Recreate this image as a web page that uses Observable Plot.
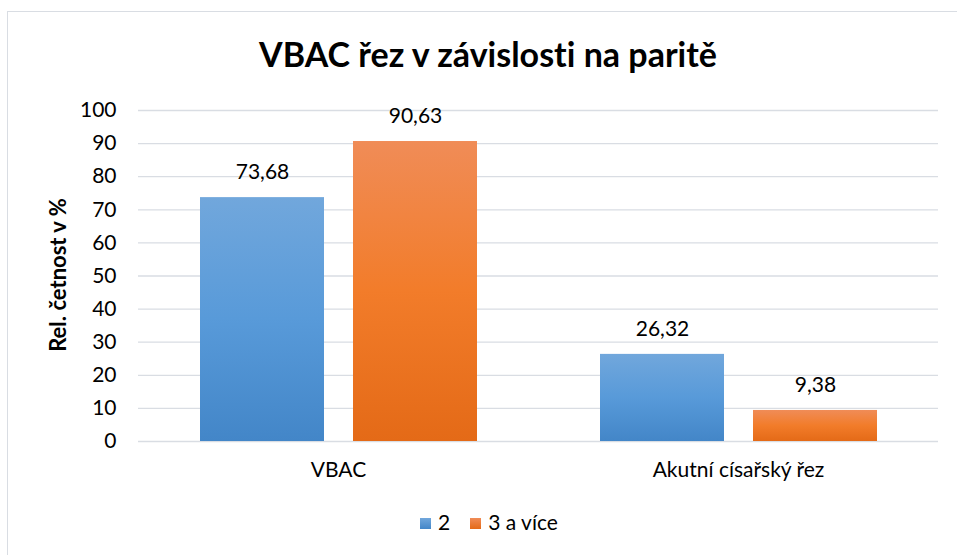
<!DOCTYPE html>
<html>
<head>
<meta charset="utf-8">
<script src="https://cdn.jsdelivr.net/npm/d3@7"></script>
<script src="https://cdn.jsdelivr.net/npm/@observablehq/plot@0.6"></script>
<style>
  body { margin: 0; background: #fff; font-family: Lato, "Open Sans", sans-serif; font-variant-ligatures: none; }
  #frame { position: absolute; left: 7px; top: 11px; width: 960px; height: 560px; border-left: 1px solid #d9dde3; border-top: 1px solid #d9dde3; box-sizing: border-box; }
  #title { position: absolute; left: 0; width: 976px; top: 33px; text-align: center; font-size: 34px; font-weight: 700; color: #000; }
  #chart { position: absolute; left: 0; top: 90px; }
  #chart svg { font-variant-ligatures: none; }
  #legend { position: absolute; left: 0; width: 978px; top: 509px; text-align: center; font-size: 21px; color: #000; }
  #legend span.sw { display: inline-block; width: 11px; height: 11px; margin-right: 7px; vertical-align: 1px; }
  #legend span.item { margin: 0 10px; }
</style>
</head>
<body>
<div id="frame"></div>
<div id="title">VBAC řez v závislosti na paritě</div>
<div id="chart"></div>
<div id="legend"></div>
<script>
const categories = ["VBAC", "Akutní císařský řez"];
const series = ["2", "3 a více"];
const values2 = [73.68, 26.32];
const values3 = [90.63, 9.38];
const yTicks = [0, 10, 20, 30, 40, 50, 60, 70, 80, 90, 100];
const colors = ["url(#gBlue)", "url(#gOrange)"];

const data = [];
categories.forEach((c, i) => {
  data.push({category: c, series: series[0], value: values2[i]});
  data.push({category: c, series: series[1], value: values3[i]});
});
const fmt = v => v.toFixed(2).replace(".", ",");

const plot = Plot.plot({
  width: 957,
  height: 400,
  marginTop: 20,
  marginBottom: 49,
  marginLeft: 137,
  marginRight: 19,
  style: {fontFamily: "Lato, 'Open Sans', sans-serif", fontSize: "21px", color: "#000", background: "transparent"},
  fx: {domain: categories, padding: 0, label: null, tickSize: 0, tickPadding: 21},
  x: {domain: series, paddingInner: 0.19, paddingOuter: 0.402, axis: null},
  y: {domain: [0, 100], ticks: yTicks, tickSize: 0, tickPadding: 22, label: null, grid: false},
  color: {domain: series, range: colors},
  marks: [
    Plot.ruleY(yTicks, {stroke: "#d9dde3", strokeWidth: 1.3, strokeOpacity: 1}),
    Plot.barY(data, {fx: "category", x: "series", y: "value", fill: "series"}),
    Plot.text(data, {fx: "category", x: "series", y: "value", text: d => fmt(d.value), dy: -25, fontSize: 21, fill: "#000"})
  ]
});

// gradients
const svg = d3.select(plot);
const defs = svg.insert("defs", ":first-child");
const gb = defs.append("linearGradient").attr("id", "gBlue").attr("x1", 0).attr("y1", 0).attr("x2", 0).attr("y2", 1);
gb.append("stop").attr("offset", "0%").attr("stop-color", "#71a7dc");
gb.append("stop").attr("offset", "50%").attr("stop-color", "#589ad9");
gb.append("stop").attr("offset", "100%").attr("stop-color", "#4386c8");
const go = defs.append("linearGradient").attr("id", "gOrange").attr("x1", 0).attr("y1", 0).attr("x2", 0).attr("y2", 1);
go.append("stop").attr("offset", "0%").attr("stop-color", "#f08c57");
go.append("stop").attr("offset", "50%").attr("stop-color", "#f27c2a");
go.append("stop").attr("offset", "100%").attr("stop-color", "#e46a17");

// y-axis label (rotated)
svg.append("text")
  .attr("transform", "translate(57,185) rotate(-90)")
  .attr("text-anchor", "middle")
  .attr("dominant-baseline", "central")
  .attr("font-weight", 700)
  .attr("font-size", 22)
  .attr("fill", "#000")
  .text("Rel. četnost v %");

document.getElementById("chart").appendChild(plot);

const legend = document.getElementById("legend");
series.forEach((s, i) => {
  const item = document.createElement("span");
  item.className = "item";
  const sw = document.createElement("span");
  sw.className = "sw";
  sw.style.background = i === 0 ? "linear-gradient(#71a7dc, #4386c8)" : "linear-gradient(#f08c57, #e46a17)";
  item.appendChild(sw);
  item.appendChild(document.createTextNode(s));
  legend.appendChild(item);
});
</script>
</body>
</html>
